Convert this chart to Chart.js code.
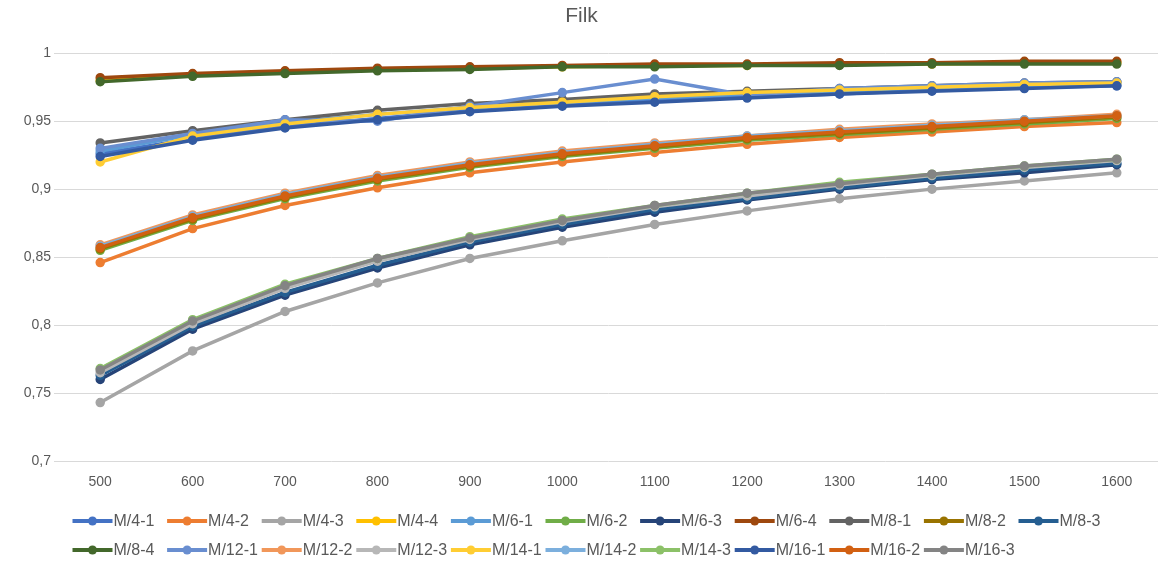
<!DOCTYPE html>
<html>
<head>
<meta charset="utf-8">
<script src="https://cdn.jsdelivr.net/npm/chart.js@4/dist/chart.umd.min.js"></script>
<style>
  html, body { margin: 0; padding: 0; background: #ffffff; overflow: hidden; }
  #wrap { position: relative; width: 1200px; height: 564px; }
</style>
</head>
<body>
<div id="wrap"><canvas id="c"></canvas></div>
<script>
// Categories on the x axis
const categories = [500, 600, 700, 800, 900, 1000, 1100, 1200, 1300, 1400, 1500, 1600];

// Series values
const M4_1  = [0.926, 0.937, 0.946, 0.952, 0.958, 0.962, 0.965, 0.968, 0.970, 0.973, 0.975, 0.976];
const M4_2  = [0.846, 0.871, 0.888, 0.901, 0.912, 0.920, 0.927, 0.933, 0.938, 0.942, 0.946, 0.949];
const M4_3  = [0.743, 0.781, 0.810, 0.831, 0.849, 0.862, 0.874, 0.884, 0.893, 0.900, 0.906, 0.912];
const M4_4  = [0.980, 0.984, 0.986, 0.988, 0.989, 0.990, 0.991, 0.991, 0.992, 0.992, 0.993, 0.993];
const M6_1  = [0.928, 0.940, 0.949, 0.955, 0.960, 0.964, 0.967, 0.970, 0.972, 0.975, 0.976, 0.978];
const M6_2  = [0.855, 0.877, 0.893, 0.906, 0.916, 0.924, 0.930, 0.936, 0.940, 0.944, 0.948, 0.952];
const M6_3  = [0.760, 0.797, 0.822, 0.842, 0.859, 0.872, 0.883, 0.892, 0.900, 0.907, 0.912, 0.918];
const M6_4  = [0.982, 0.985, 0.987, 0.989, 0.990, 0.991, 0.992, 0.992, 0.993, 0.993, 0.994, 0.994];
const M8_1  = [0.934, 0.943, 0.951, 0.958, 0.963, 0.966, 0.970, 0.972, 0.974, 0.976, 0.978, 0.979];
const M8_2  = [0.856, 0.878, 0.894, 0.907, 0.917, 0.925, 0.931, 0.937, 0.941, 0.945, 0.949, 0.953];
const M8_3  = [0.763, 0.799, 0.824, 0.844, 0.861, 0.874, 0.885, 0.893, 0.901, 0.908, 0.914, 0.919];
const M8_4  = [0.979, 0.983, 0.985, 0.987, 0.988, 0.990, 0.990, 0.991, 0.991, 0.992, 0.992, 0.992];
const M12_1 = [0.930, 0.941, 0.951, 0.950, 0.961, 0.971, 0.981, 0.969, 0.974, 0.976, 0.978, 0.979];
const M12_2 = [0.859, 0.881, 0.897, 0.910, 0.920, 0.928, 0.934, 0.939, 0.944, 0.948, 0.951, 0.955];
const M12_3 = [0.765, 0.801, 0.827, 0.847, 0.863, 0.876, 0.887, 0.895, 0.903, 0.910, 0.916, 0.921];
const M14_1 = [0.920, 0.939, 0.948, 0.955, 0.960, 0.964, 0.968, 0.971, 0.973, 0.975, 0.977, 0.978];
const M14_2 = [0.858, 0.880, 0.896, 0.909, 0.919, 0.927, 0.933, 0.939, 0.943, 0.947, 0.951, 0.954];
const M14_3 = [0.768, 0.804, 0.830, 0.849, 0.865, 0.878, 0.888, 0.897, 0.905, 0.911, 0.917, 0.922];
const M16_1 = [0.924, 0.936, 0.945, 0.951, 0.957, 0.961, 0.964, 0.967, 0.970, 0.972, 0.974, 0.976];
const M16_2 = [0.857, 0.879, 0.895, 0.908, 0.918, 0.926, 0.932, 0.938, 0.942, 0.946, 0.950, 0.954];
const M16_3 = [0.767, 0.803, 0.829, 0.849, 0.864, 0.877, 0.888, 0.897, 0.904, 0.911, 0.917, 0.922];

// Series names, in legend order
const seriesNames = [
  'M/4-1', 'M/4-2', 'M/4-3', 'M/4-4',
  'M/6-1', 'M/6-2', 'M/6-3', 'M/6-4',
  'M/8-1', 'M/8-2', 'M/8-3', 'M/8-4',
  'M/12-1', 'M/12-2', 'M/12-3',
  'M/14-1', 'M/14-2', 'M/14-3',
  'M/16-1', 'M/16-2', 'M/16-3'
];
const seriesValues = [
  M4_1, M4_2, M4_3, M4_4,
  M6_1, M6_2, M6_3, M6_4,
  M8_1, M8_2, M8_3, M8_4,
  M12_1, M12_2, M12_3,
  M14_1, M14_2, M14_3,
  M16_1, M16_2, M16_3
];

// Y axis range and step
const yMin = 0.7, yMax = 1, yStep = 0.05;

// Line colours, one per series
const seriesColors = [
  '#4472C4', '#ED7D31', '#A5A5A5', '#FFC000',
  '#5B9BD5', '#70AD47', '#264478', '#9E480E',
  '#636363', '#997300', '#255E91', '#43682B',
  '#698ED0', '#F1975A', '#B7B7B7',
  '#FFCD33', '#7CAFDD', '#8CC168',
  '#335AA1', '#D26012', '#848484'
];

const TEXT = '#595959';
const FONT = '"Liberation Sans", Arial, sans-serif';

// Legend laid out on a fixed column grid below the axis
const gridLegend = {
  id: 'gridLegend',
  afterDraw(chart, args, opts) {
    const ctx = chart.ctx;
    ctx.save();
    chart.data.datasets.forEach((ds, i) => {
      const row = i < opts.perRow ? 0 : 1;
      const col = row ? i - opts.perRow : i;
      const x = opts.left + col * opts.step;
      const y = opts.rows[row];
      ctx.strokeStyle = ds.borderColor;
      ctx.lineWidth = 4;
      ctx.lineCap = 'butt';
      ctx.beginPath();
      ctx.moveTo(x, y);
      ctx.lineTo(x + opts.symbol, y);
      ctx.stroke();
      ctx.fillStyle = ds.borderColor;
      ctx.beginPath();
      ctx.arc(x + opts.symbol / 2, y, 4.5, 0, Math.PI * 2);
      ctx.fill();
      ctx.fillStyle = TEXT;
      ctx.font = '16px ' + FONT;
      ctx.textAlign = 'left';
      ctx.textBaseline = 'middle';
      ctx.fillText(ds.label, x + opts.symbol + 1, y + 1);
    });
    ctx.restore();
  }
};

const datasets = seriesNames.map((name, i) => ({
  label: name,
  data: seriesValues[i],
  borderColor: seriesColors[i],
  backgroundColor: seriesColors[i],
  pointBackgroundColor: seriesColors[i],
  pointBorderColor: seriesColors[i],
  borderWidth: 3.5,
  pointRadius: 4,
  pointBorderWidth: 1.5,
  pointHoverRadius: 4,
  tension: 0,
  fill: false,
  order: -i   // later series are painted over earlier ones
}));

new Chart(document.getElementById('c'), {
  type: 'line',
  data: { labels: categories, datasets },
  plugins: [gridLegend],
  options: {
    responsive: true,
    maintainAspectRatio: false,
    animation: false,
    layout: { padding: { left: 0, right: 37, top: 0, bottom: 73 } },
    plugins: {
      legend: { display: false },
      tooltip: { enabled: false },
      title: {
        display: true,
        text: 'Filk',
        color: TEXT,
        font: { family: FONT, size: 21, weight: 'normal' },
        padding: { top: 4, bottom: 24 }
      },
      gridLegend: { left: 72.5, step: 94.6, perRow: 11, rows: [521, 550], symbol: 40 }
    },
    scales: {
      x: {
        type: 'category',
        offset: true,
        grid: { display: false, drawTicks: false },
        border: { display: false },
        ticks: { color: TEXT, font: { family: FONT, size: 14 }, padding: 13, maxRotation: 0 },
        afterFit(scale) { scale.height = 30; }
      },
      y: {
        min: yMin,
        max: yMax,
        grid: { color: '#d9d9d9', lineWidth: 1, drawTicks: false },
        border: { display: false },
        ticks: {
          stepSize: yStep,
          color: TEXT,
          font: { family: FONT, size: 14 },
          padding: 3,
          callback: v => Number(v.toFixed(2)).toString().replace('.', ',')
        },
        afterFit(scale) { scale.width = 54; }
      }
    }
  }
});
</script>
</body>
</html>
